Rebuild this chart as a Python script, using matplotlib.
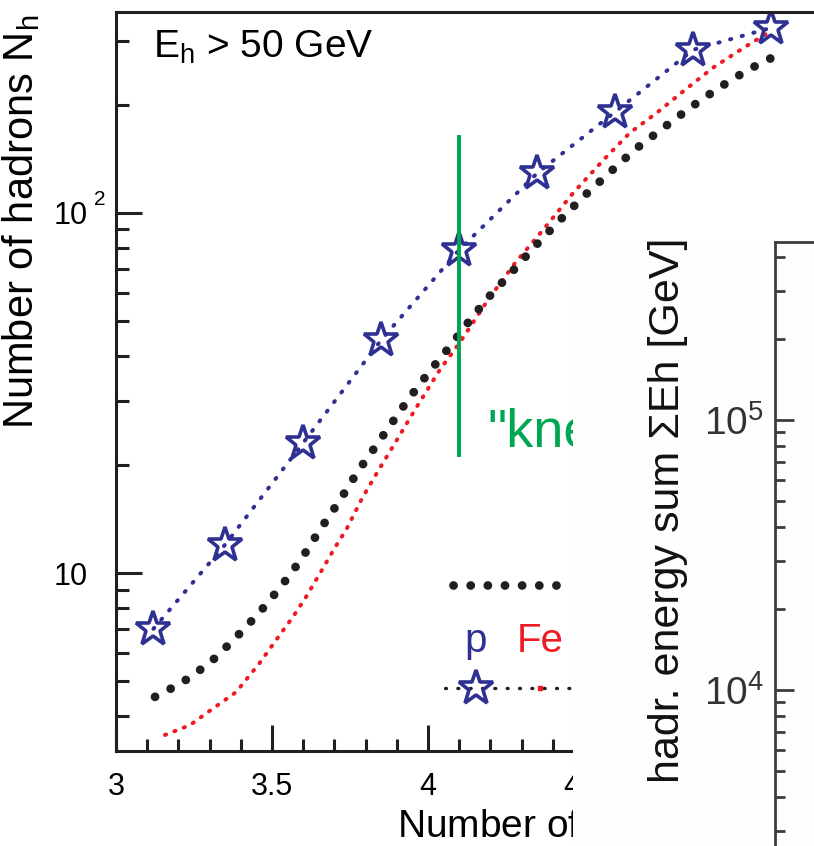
import numpy as np
import matplotlib.pyplot as plt
from matplotlib.ticker import FixedLocator, NullFormatter, LogLocator

plt.rcParams['font.family'] = ['Liberation Sans', 'DejaVu Sans']
plt.rcParams['mathtext.fontset'] = 'custom'
plt.rcParams['mathtext.rm'] = 'Liberation Sans'
plt.rcParams['mathtext.it'] = 'Liberation Sans:italic'

W, H = 814, 846

# proton simulation (stars)
p_x = [3.12, 3.35, 3.6, 3.85, 4.1, 4.35, 4.6, 4.85, 5.1]
p_y = [7.0, 12.0, 23.0, 44.4, 79.0, 129, 191, 284, 327]

# measured data (big black dots)
data_x = [3.125, 3.21, 3.30, 3.38, 3.458, 3.528, 3.593, 3.654, 3.715, 3.776,
          3.84, 3.936, 4.003, 4.071, 4.125, 4.192, 4.269, 4.343, 4.42, 4.497,
          4.58, 4.663, 4.753, 4.84, 4.93, 5.026, 5.106]
data_y = [4.53, 4.95, 5.62, 6.56, 7.74, 9.15, 10.9, 13.2, 15.8, 19.2,
          23.0, 30.3, 36.1, 42.7, 49.2, 58.1, 68.6, 80.9, 95, 110.8,
          129, 150, 172, 196, 222, 250, 271]

# iron simulation (red dotted)
fe_x = [3.157, 3.237, 3.30, 3.385, 3.46, 3.52, 3.567, 3.609, 3.663, 3.70,
        3.74, 3.79, 3.846, 3.90, 3.958, 4.038, 4.103, 4.192, 4.279, 4.369,
        4.465, 4.561, 4.647, 4.734, 4.83, 4.913, 5.01, 5.096]
fe_y = [3.55, 3.78, 4.14, 4.67, 5.62, 6.64, 7.55, 8.58, 10.3, 11.7,
        13.3, 16.2, 19.6, 23.4, 28.4, 36.7, 43.8, 57.3, 72.6, 89.8,
        113.6, 140, 167, 190, 222, 253, 287, 319]

# "knee" marker
knee_x = [4.1, 4.1]
knee_y = [21, 165]

x_ticks = [3, 3.5, 4, 4.5, 5]
x_ticklabels = ['3', '3.5', '4', '4.5', '5']

BLUE = '#2e3192'
RED = '#ed1c24'
BLACK = '#231f20'
GREEN = '#00a651'

big_dots = dict(color=BLACK, lw=6.3, linestyle=(0, (0.01, 2.0)), dash_capstyle='round')
blue_dots = dict(color=BLUE, lw=2.9, linestyle=(0, (0.3, 2.7)), dash_capstyle='round')
red_dots = dict(color=RED, lw=2.9, linestyle=(0, (0.3, 2.2)), dash_capstyle='round')
star = dict(marker='*', ms=26, mfc='none', mec=BLUE, mew=2.6, linestyle='none')

fig = plt.figure(figsize=(W / 100, H / 100), dpi=100)

# main panel (its right side runs off the picture)
ax = fig.add_axes([116 / W, 1 - 751 / H, 717.6 / W, 739 / H])
ax.set_yscale('log')
ax.set_xlim(3, 5.3)
ax.set_ylim(3.204, 361.6)

ax.plot(p_x, p_y, **blue_dots)
ax.plot(fe_x, fe_y, **red_dots)
ax.plot(data_x, data_y, **big_dots)
ax.plot(p_x, p_y, **star)
ax.plot(knee_x, knee_y, color=GREEN, lw=2.8, solid_capstyle='butt')
ax.text(4.19, 22.4, '"knee"', color=GREEN, fontsize=39, va='baseline')

ax.text(0.0516, 0.9378, r'E$_{\rm h}$ > 50 GeV', transform=ax.transAxes,
        fontsize=28, va='baseline')

# legend fragments
ax.plot([0.4696, 0.618], [0.2246, 0.2246], transform=ax.transAxes,
        color=BLACK, lw=6.3, linestyle=(0, (0.01, 1.95)), dash_capstyle='round')
ax.text(0.5017, 0.134, 'p', color=BLUE, fontsize=29, ha='center',
        va='baseline', transform=ax.transAxes)
ax.text(0.5588, 0.134, 'Fe', color=RED, fontsize=29, ha='left',
        va='baseline', transform=ax.transAxes)
ax.plot([0.4585, 0.70], [0.0853, 0.0853], transform=ax.transAxes,
        color=BLACK, lw=2.4, linestyle=(0, (0.3, 3.4)), dash_capstyle='round')
ax.plot([0.5017], [0.0853], transform=ax.transAxes, **star)
ax.plot([0.591], [0.0853], transform=ax.transAxes, marker='s', ms=3.5,
        color=RED, linestyle='none')

for s in ax.spines.values():
    s.set_linewidth(2.2)
    s.set_color(BLACK)

ax.set_xticks(x_ticks)
ax.set_xticklabels(x_ticklabels)
ax.xaxis.set_minor_locator(FixedLocator(np.arange(3.1, 5.3, 0.1)))
ax.set_yticks([10, 100])
ax.set_yticklabels(['10', '10'])
ax.yaxis.set_minor_locator(LogLocator(base=10, subs=np.arange(2, 10)))
ax.yaxis.set_minor_formatter(NullFormatter())
ax.tick_params(which='both', direction='in', width=2.2, color=BLACK,
               labelsize=22, top=False, right=False)
ax.tick_params(which='major', length=19)
ax.tick_params(which='minor', length=9)
ax.tick_params(axis='x', pad=15)
ax.tick_params(axis='y', pad=20)
ax.annotate('2', xy=(0, 100), xycoords=ax.get_yaxis_transform(),
            xytext=(-11.5, 9.5), textcoords='offset points',
            fontsize=15, ha='center', va='center')

fig.text(21 / W, 1 - 222 / H, r'Number of hadrons N$_{\rm h}$', rotation=90,
         fontsize=30, ha='center', va='center')
fig.text(397 / W, 1 - 837 / H, r'Number of electrons  lg N$_{\rm e}$',
         fontsize=28, ha='left', va='baseline')

# pasted-over second panel
cover = fig.add_axes([573 / W, 0, 241 / W, (H - 240) / H], zorder=5)
cover.set_facecolor('#fefefe')
cover.set_xticks([])
cover.set_yticks([])
for s in cover.spines.values():
    s.set_visible(False)

ax2 = fig.add_axes([775 / W, -0.1, 300 / W, 0.1 + (H - 242) / H], zorder=6)
ax2.patch.set_alpha(0)
ax2.set_yscale('log')
ax2.set_ylim(1285, 456000)
ax2.set_xticks([])
ax2.set_yticks([1e4, 1e5])
ax2.set_yticklabels([r'$10^{4}$', r'$10^{5}$'])
ax2.yaxis.set_minor_locator(LogLocator(base=10, subs=np.arange(2, 10)))
ax2.yaxis.set_minor_formatter(NullFormatter())
for s in ax2.spines.values():
    s.set_linewidth(2.0)
    s.set_color('#3c3c3c')
ax2.tick_params(which='both', direction='in', width=2.0, color='#3c3c3c',
                labelsize=28, labelcolor='#333333', pad=8, right=False)
ax2.tick_params(which='major', length=14)
ax2.tick_params(which='minor', length=7)

fig.text(668 / W, 1 - 510 / H, 'hadr. energy sum ΣEh [GeV]', rotation=90,
         fontsize=31, ha='center', va='center', zorder=10, color='#111111')

fig.savefig('out.png', dpi=100)
